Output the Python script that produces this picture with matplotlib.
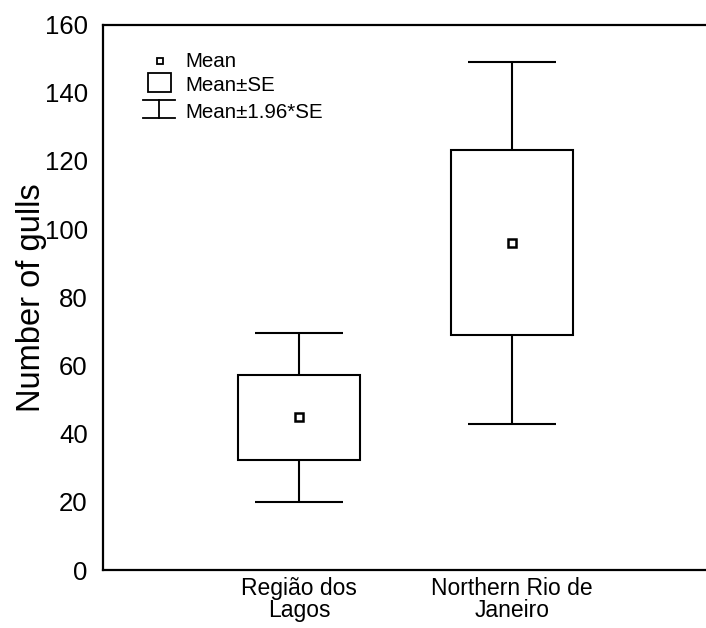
import matplotlib
matplotlib.use('Agg')
import matplotlib.pyplot as plt
from matplotlib.patches import Rectangle
from matplotlib.lines import Line2D

plt.rcParams['font.family'] = ['Liberation Sans', 'DejaVu Sans']

# data
groups = ['Região dos\nLagos', 'Northern Rio de\nJaneiro']
means = [44.8, 95.8]
se_low = [32.3, 68.8]
se_high = [57.2, 123.2]
ci_low = [20.0, 42.7]
ci_high = [69.4, 149.1]

yticks = [0, 20, 40, 60, 80, 100, 120, 140, 160]

fig = plt.figure(figsize=(7.06, 6.28), dpi=100)
ax = fig.add_axes([103/706, 58/628, 622/706, 545.5/628])

lw = 1.5
box_half = 0.287
cap_half = 0.205
xs = [1, 2]

for x, m, lo, hi, clo, chi in zip(xs, means, se_low, se_high, ci_low, ci_high):
    ax.add_patch(Rectangle((x - box_half, lo), 2 * box_half, hi - lo,
                           fill=False, edgecolor='black', linewidth=lw, zorder=2))
    ax.vlines(x, hi, chi, color='black', linewidth=lw)
    ax.vlines(x, clo, lo, color='black', linewidth=lw)
    ax.hlines([clo, chi], x - cap_half, x + cap_half, color='black', linewidth=lw)
    ax.plot(x, m, marker='s', markersize=5.5, markerfacecolor='white',
            markeredgecolor='black', markeredgewidth=1.8, zorder=3)

ax.set_xlim(0.08, 3.0)
ax.set_ylim(0, 160)
ax.set_xticks(xs)
ax.set_xticklabels(groups, fontsize=16.5, linespacing=0.92)
ax.set_yticks(yticks)
ax.tick_params(axis='y', length=0, pad=11, labelsize=18.5)
ax.tick_params(axis='x', length=0, pad=5)
ax.set_ylabel('Number of gulls', fontsize=23.5, labelpad=-1.5)
for s in ['left', 'bottom', 'top']:
    ax.spines[s].set_linewidth(1.6)
ax.spines['right'].set_visible(False)

# hand-drawn legend (axes fraction)
tr = ax.transAxes
ax.add_line(Line2D([0.0916], [0.933], marker='s', markersize=4.5, markerfacecolor='white',
                   markeredgecolor='black', markeredgewidth=1.3, transform=tr))
ax.add_patch(Rectangle((0.0723, 0.876), 0.0377, 0.036, fill=False, edgecolor='black',
                       linewidth=1.3, transform=tr))
ax.add_line(Line2D([0.064, 0.1158], [0.862, 0.862], color='black', linewidth=1.3, transform=tr))
ax.add_line(Line2D([0.064, 0.1158], [0.829, 0.829], color='black', linewidth=1.3, transform=tr))
ax.add_line(Line2D([0.0908, 0.0908], [0.829, 0.862], color='black', linewidth=1.3, transform=tr))
for yy, txt in zip([0.935, 0.891, 0.843], ['Mean', 'Mean±SE', 'Mean±1.96*SE']):
    ax.text(0.132, yy, txt, transform=tr, fontsize=14.8, va='center_baseline', ha='left')

fig.savefig('out.png', dpi=100)
